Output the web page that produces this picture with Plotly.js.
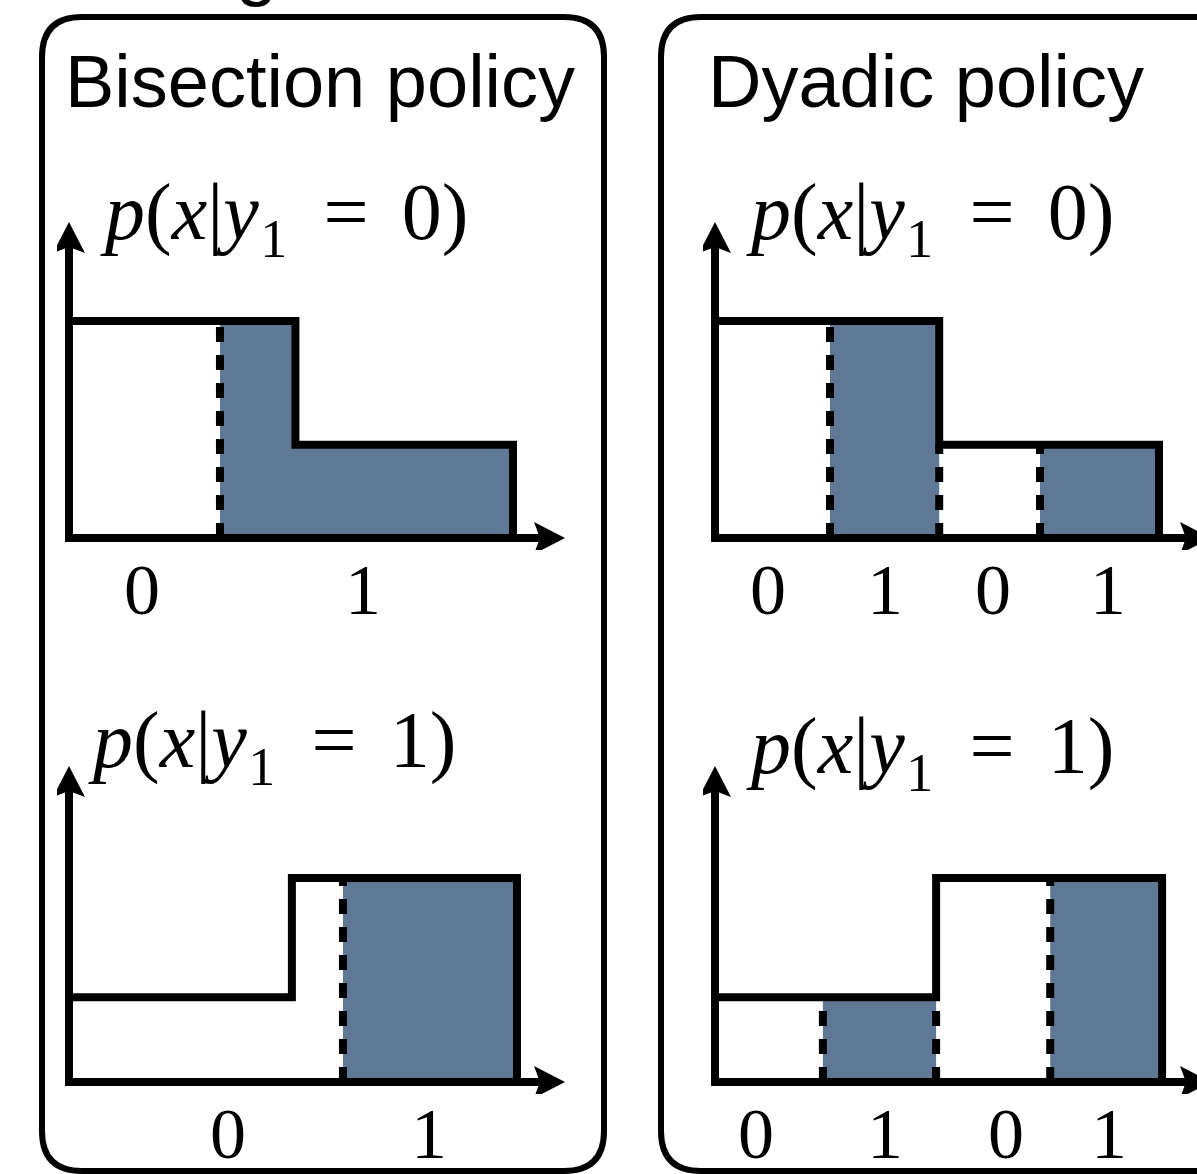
<!DOCTYPE html>
<html>
<head>
<meta charset="utf-8">
<script src="https://cdn.plot.ly/plotly-3.0.1.min.js"></script>
<style>html,body{margin:0;padding:0;background:#ffffff;}</style>
</head>
<body>
<div id="chart" style="width:1197px;height:1174px;"></div>
<script>
// ---------------- DATA ----------------
const panelTitles = ['Bisection policy', 'Dyadic policy'];
const conditionLabels = [
  '<i>p</i>(<i>x</i>|<i>y</i><span style="font-size:90px">\u2081</span>\u00A0\u2006=\u00A0\u20060)',
  '<i>p</i>(<i>x</i>|<i>y</i><span style="font-size:90px">\u2081</span>\u00A0\u2006=\u00A0\u20061)'
];
const clippedHeading = 'g';

// Bisection policy, y1 = 0
const bisectTopEdges = [0, 0.51, 1.0];
const bisectTopHeights = [1.0, 0.43];
const bisectTopCuts = [0.34];
const bisectTopShaded = [[0.34, 1.0]];
const bisectTopTickVals = [0.164, 0.662];
const bisectTopTickText = ['0', '1'];

// Bisection policy, y1 = 1
const bisectBottomEdges = [0, 0.502, 1.009];
const bisectBottomHeights = [0.39, 0.94];
const bisectBottomCuts = [0.617];
const bisectBottomShaded = [[0.617, 1.009]];
const bisectBottomTickVals = [0.358, 0.811];
const bisectBottomTickText = ['0', '1'];

// Dyadic policy, y1 = 0
const dyadicTopEdges = [0, 0.505, 1.0];
const dyadicTopHeights = [1.0, 0.43];
const dyadicTopCuts = [0.259, 0.505, 0.732];
const dyadicTopShaded = [[0.259, 0.505], [0.732, 1.0]];
const dyadicTopTickVals = [0.119, 0.383, 0.626, 0.885];
const dyadicTopTickText = ['0', '1', '0', '1'];

// Dyadic policy, y1 = 1
const dyadicBottomEdges = [0, 0.498, 1.007];
const dyadicBottomHeights = [0.39, 0.94];
const dyadicBottomCuts = [0.243, 0.498, 0.755];
const dyadicBottomShaded = [[0.243, 0.498], [0.755, 1.007]];
const dyadicBottomTickVals = [0.092, 0.383, 0.655, 0.887];
const dyadicBottomTickText = ['0', '1', '0', '1'];

// ---------------- LAYOUT GEOMETRY ----------------
const W = 1197, H = 1174;
const XS = 444, YS = 217;          // pixels per data unit
const SHADE = '#5e7896';
const LW = 8;
const X_ARROW_LEN = 496, Y_ARROW_LEN = 316;   // pixels from origin to arrow tip
const HEAD_LEN = 31, HEAD_HALF = 16, HEAD_NOTCH = 25;
const px2x = p => p / W;
const px2y = p => 1 - p / H;

const panels = [
  {ox: 69,  oy: 538,  edges: bisectTopEdges, heights: bisectTopHeights, cuts: bisectTopCuts, shaded: bisectTopShaded, tv: bisectTopTickVals, tt: bisectTopTickText, label: conditionLabels[0], lx: 98, ly: 208, tickShift: -52},
  {ox: 69,  oy: 1082, edges: bisectBottomEdges, heights: bisectBottomHeights, cuts: bisectBottomCuts, shaded: bisectBottomShaded, tv: bisectBottomTickVals, tt: bisectBottomTickText, label: conditionLabels[1], lx: 86, ly: 736, tickShift: -51.5},
  {ox: 715, oy: 538,  edges: dyadicTopEdges, heights: dyadicTopHeights, cuts: dyadicTopCuts, shaded: dyadicTopShaded, tv: dyadicTopTickVals, tt: dyadicTopTickText, label: conditionLabels[0], lx: 744, ly: 208, tickShift: -52},
  {ox: 715, oy: 1082, edges: dyadicBottomEdges, heights: dyadicBottomHeights, cuts: dyadicBottomCuts, shaded: dyadicBottomShaded, tv: dyadicBottomTickVals, tt: dyadicBottomTickText, label: conditionLabels[1], lx: 744, ly: 742, tickShift: -51.5}
];

function heightAt(p, x, side) {
  const e = p.edges, h = p.heights;
  for (let i = 0; i < e.length; i++) {
    if (Math.abs(e[i] - x) < 1e-9) {
      const left = i > 0 ? h[i - 1] : h[0];
      const right = i < h.length ? h[i] : h[h.length - 1];
      if (side === 'left') return left;
      if (side === 'right') return right;
      return Math.min(left, right);
    }
  }
  for (let i = 0; i < h.length; i++) {
    if (x > e[i] && x < e[i + 1]) return h[i];
  }
  return 0;
}

const traces = [];
const annotations = [];
const shapes = [];
const layout = {
  width: W, height: H,
  margin: {l: 0, r: 0, t: 0, b: 0},
  paper_bgcolor: '#ffffff', plot_bgcolor: 'rgba(0,0,0,0)',
  showlegend: false,
  shapes: shapes,
  annotations: annotations
};

// rounded frames
function roundedRect(x0, y0, x1, y1, r) {
  const X = px2x, Y = px2y;
  return `M ${X(x0 + r)},${Y(y0)} L ${X(x1 - r)},${Y(y0)} Q ${X(x1)},${Y(y0)} ${X(x1)},${Y(y0 + r)} ` +
         `L ${X(x1)},${Y(y1 - r)} Q ${X(x1)},${Y(y1)} ${X(x1 - r)},${Y(y1)} ` +
         `L ${X(x0 + r)},${Y(y1)} Q ${X(x0)},${Y(y1)} ${X(x0)},${Y(y1 - r)} ` +
         `L ${X(x0)},${Y(y0 + r)} Q ${X(x0)},${Y(y0)} ${X(x0 + r)},${Y(y0)} Z`;
}
shapes.push({type: 'path', xref: 'paper', yref: 'paper', path: roundedRect(42, 17, 604, 1171, 40),
  line: {color: '#000', width: 6}, fillcolor: 'rgba(0,0,0,0)', layer: 'below'});
shapes.push({type: 'path', xref: 'paper', yref: 'paper', path: roundedRect(661, 17, 1240, 1171, 40),
  line: {color: '#000', width: 6}, fillcolor: 'rgba(0,0,0,0)', layer: 'below'});

panels.forEach((p, i) => {
  const n = i === 0 ? '' : String(i + 1);
  const xa = 'x' + n, ya = 'y' + n;
  const rightPx = Math.min(W, p.ox + 510);
  layout['xaxis' + n] = {
    domain: [px2x(p.ox - 12), px2x(rightPx)],
    range: [-12 / XS, (rightPx - p.ox) / XS],
    visible: false, fixedrange: true, anchor: ya
  };
  layout['yaxis' + n] = {
    domain: [px2y(p.oy + 12), px2y(p.oy - 330)],
    range: [-12 / YS, 330 / YS],
    visible: false, fixedrange: true, anchor: xa
  };

  // shaded regions under the step function
  p.shaded.forEach(([a, b]) => {
    const xs = [a, a], ys = [0, heightAt(p, a, 'right')];
    p.edges.forEach((e, k) => {
      if (e > a + 1e-9 && e < b - 1e-9) {
        xs.push(e, e); ys.push(p.heights[k - 1], p.heights[k]);
      }
    });
    xs.push(b, b); ys.push(heightAt(p, b, 'left'), 0);
    traces.push({x: xs, y: ys, xaxis: xa, yaxis: ya, type: 'scatter', mode: 'lines',
      fill: 'toself', fillcolor: SHADE, line: {width: 0, color: SHADE}, hoverinfo: 'skip'});
  });

  // dashed cut lines
  p.cuts.forEach(c => {
    traces.push({x: [c, c], y: [0, heightAt(p, c, 'min')], xaxis: xa, yaxis: ya,
      type: 'scatter', mode: 'lines', line: {color: '#000', width: LW, dash: '15px,13px'}, hoverinfo: 'skip'});
  });

  // step outline
  traces.push({x: p.edges, y: p.heights.concat([0]), xaxis: xa, yaxis: ya,
    type: 'scatter', mode: 'lines', line: {color: '#000', width: LW, shape: 'hv'}, hoverinfo: 'skip'});

  // axis arrows (pixel-sized shapes anchored at the origin of each panel)
  const base = {xref: xa, yref: ya, xsizemode: 'pixel', ysizemode: 'pixel', xanchor: 0, yanchor: 0, layer: 'above'};
  shapes.push(Object.assign({}, base, {type: 'path',
    path: `M-4,0 L${X_ARROW_LEN - HEAD_NOTCH + 2},0`, line: {color: '#000', width: LW}}));
  shapes.push(Object.assign({}, base, {type: 'path',
    path: `M0,-4 L0,${Y_ARROW_LEN - HEAD_NOTCH + 2}`, line: {color: '#000', width: LW}}));
  shapes.push(Object.assign({}, base, {type: 'path',
    path: `M${X_ARROW_LEN},0 L${X_ARROW_LEN - HEAD_LEN},${HEAD_HALF} L${X_ARROW_LEN - HEAD_NOTCH},0 L${X_ARROW_LEN - HEAD_LEN},${-HEAD_HALF} Z`,
    line: {width: 0}, fillcolor: '#000'}));
  shapes.push(Object.assign({}, base, {type: 'path',
    path: `M0,${Y_ARROW_LEN} L${HEAD_HALF},${Y_ARROW_LEN - HEAD_LEN} L0,${Y_ARROW_LEN - HEAD_NOTCH} L${-HEAD_HALF},${Y_ARROW_LEN - HEAD_LEN} Z`,
    line: {width: 0}, fillcolor: '#000'}));

  // bin labels
  p.tv.forEach((v, k) => {
    annotations.push({xref: xa, yref: ya, x: v, y: 0, yshift: p.tickShift, text: p.tt[k],
      showarrow: false, xanchor: 'center', yanchor: 'middle', borderpad: 0,
      font: {family: 'Liberation Serif', size: 72, color: '#000'}});
  });

  // conditional density label
  annotations.push({xref: 'paper', yref: 'paper', x: px2x(p.lx), y: px2y(p.ly), text: p.label,
    showarrow: false, xanchor: 'left', yanchor: 'middle',
    font: {family: 'Liberation Serif', size: 80, color: '#000'}});
});

// panel titles
annotations.push({xref: 'paper', yref: 'paper', x: px2x(63), y: px2y(82), text: panelTitles[0],
  showarrow: false, xanchor: 'left', yanchor: 'middle', font: {family: 'Liberation Sans', size: 74, color: '#000'}});
annotations.push({xref: 'paper', yref: 'paper', x: px2x(706), y: px2y(82), text: panelTitles[1],
  showarrow: false, xanchor: 'left', yanchor: 'middle', font: {family: 'Liberation Sans', size: 74, color: '#000'}});
annotations.push({xref: 'paper', yref: 'paper', x: px2x(256), y: px2y(10), text: clippedHeading,
  showarrow: false, xanchor: 'center', yanchor: 'bottom', font: {family: 'Liberation Sans', size: 74, color: '#000'}});

Plotly.newPlot('chart', traces, layout, {staticPlot: true, displayModeBar: false});
</script>
</body>
</html>
